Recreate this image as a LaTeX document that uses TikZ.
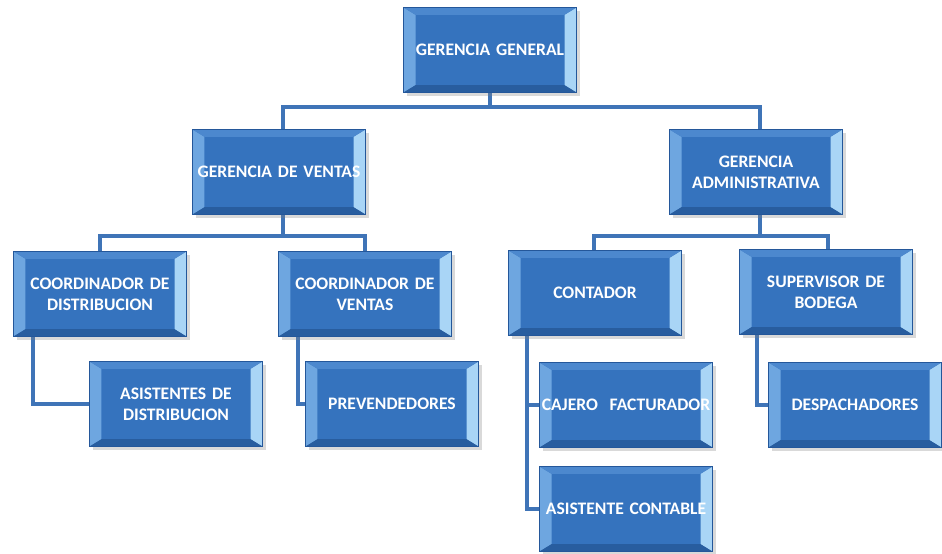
\documentclass[tikz,border=0pt]{standalone}
\usepackage{fontspec}
\setmainfont{Carlito}
\usetikzlibrary{shadows,backgrounds}
\definecolor{boxblue}{HTML}{3573BE}
\definecolor{boxedge}{HTML}{24579A}
\definecolor{bevleft}{HTML}{6EA6E0}
\definecolor{bevright}{HTML}{A9D5F6}
\definecolor{bevtop}{HTML}{4C88CE}
\definecolor{bevbot}{HTML}{285D9F}
\definecolor{linkblue}{HTML}{3F74B7}

\begin{document}
\begin{tikzpicture}[x=0.03cm, y=-0.03cm,
    cargo/.style={rectangle, draw=boxedge, fill=boxblue, line width=0.6pt,
        minimum width=5.19cm, minimum height=2.55cm, inner sep=0pt,
        text width=5.1cm, align=center, text=white,
        font=\fontsize{15}{18}\selectfont\bfseries,
        drop shadow={shadow xshift=0.1cm, shadow yshift=-0.1cm, opacity=0.3},
        path picture={
            \fill[bevleft] (path picture bounding box.south west) -- (path picture bounding box.north west)
                -- ([shift={(0.36cm,-0.22cm)}]path picture bounding box.north west)
                -- ([shift={(0.36cm,0.22cm)}]path picture bounding box.south west) -- cycle;
            \fill[bevright] (path picture bounding box.south east) -- (path picture bounding box.north east)
                -- ([shift={(-0.36cm,-0.22cm)}]path picture bounding box.north east)
                -- ([shift={(-0.36cm,0.22cm)}]path picture bounding box.south east) -- cycle;
            \fill[bevtop] (path picture bounding box.north west) -- (path picture bounding box.north east)
                -- ([shift={(-0.36cm,-0.22cm)}]path picture bounding box.north east)
                -- ([shift={(0.36cm,-0.22cm)}]path picture bounding box.north west) -- cycle;
            \fill[bevbot] (path picture bounding box.south west) -- (path picture bounding box.south east)
                -- ([shift={(-0.36cm,0.22cm)}]path picture bounding box.south east)
                -- ([shift={(0.36cm,0.22cm)}]path picture bounding box.south west) -- cycle;
        }},
    link/.style={draw=linkblue, line width=3pt}]

    \useasboundingbox (0,0) rectangle (942,553);

    \node[cargo] (gg) at (490,50) {GERENCIA GENERAL};
    \node[cargo] (gv) at (279,172) {GERENCIA DE VENTAS};
    \node[cargo] (ga) at (756,172) {GERENCIA\\ADMINISTRATIVA};
    \node[cargo] (cd) at (100,294) {COORDINADOR DE\\DISTRIBUCION};
    \node[cargo] (cv) at (365,294) {COORDINADOR DE\\VENTAS};
    \node[cargo] (ct) at (595,293) {CONTADOR};
    \node[cargo] (sb) at (826,292) {SUPERVISOR DE\\BODEGA};
    \node[cargo] (ad) at (176,404) {ASISTENTES DE\\DISTRIBUCION};
    \node[cargo] (pv) at (392,404) {PREVENDEDORES};
    \node[cargo] (cf) at (626,405) {CAJERO\ \ FACTURADOR};
    \node[cargo] (ac) at (626,509) {ASISTENTE CONTABLE};
    \node[cargo] (dp) at (855,405) {DESPACHADORES};

    % bus points
    \coordinate (bus0) at (490,107);
    \coordinate (bus1) at (283,236);
    \coordinate (bus2) at (760,236);

    \begin{scope}[on background layer]
    \draw[link] (gg.south) -- (bus0) -| ([xshift=0.12cm]gv.north);
    \draw[link] (bus0) -| ([xshift=0.12cm]ga.north);
    \draw[link] ([xshift=0.12cm]gv.south) -- (bus1) -| (cd.north);
    \draw[link] (bus1) -| (cv.north);
    \draw[link] ([xshift=0.12cm]ga.south) -- (bus2) -| ([xshift=-0.03cm]ct.north);
    \draw[link] (bus2) -| ([xshift=0.06cm]sb.north);
    \draw[link] ([xshift=-2.01cm]cd.south) |- (ad.west);
    \draw[link] ([xshift=-2.01cm]cv.south) |- (pv.west);
    \draw[link] ([xshift=-2.04cm]ct.south) |- (cf.west);
    \draw[link] ([xshift=-2.04cm]ct.south) |- (ac.west);
    \draw[link] ([xshift=-2.07cm]sb.south) |- (dp.west);
    \end{scope}
\end{tikzpicture}
\end{document}
